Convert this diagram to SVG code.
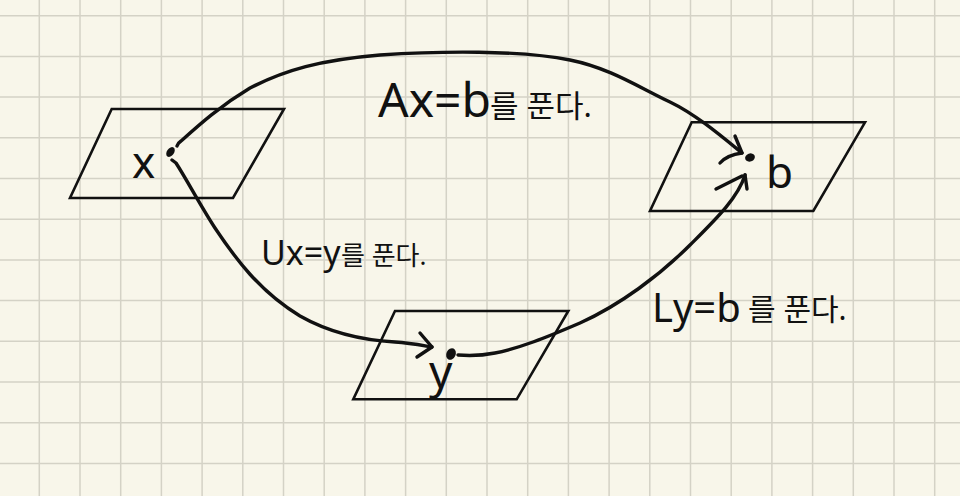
<svg xmlns="http://www.w3.org/2000/svg" width="960" height="496" viewBox="0 0 960 496">
<style>
.grid{fill:none;stroke:#d4d2c6;stroke-width:1.5}
.plane{fill:none;stroke:#111;stroke-width:2.6;stroke-linejoin:miter}
.edge{fill:none;stroke:#111;stroke-width:3.4;stroke-linecap:round;stroke-linejoin:round}
.dot{fill:#111}
.lbl{font-family:"Noto Sans","Noto Sans CJK KR",sans-serif;fill:#111}
</style>
<rect x="0" y="0" width="960" height="496" fill="#f8f6ea"/>
<path class="grid" d="M39.3,0V496M80,0V496M120.7,0V496M161.4,0V496M202.1,0V496M242.8,0V496M283.5,0V496M324.2,0V496M364.9,0V496M405.6,0V496M446.3,0V496M487,0V496M527.7,0V496M568.4,0V496M609.1,0V496M649.8,0V496M690.5,0V496M731.2,0V496M771.9,0V496M812.6,0V496M853.3,0V496M894,0V496M934.7,0V496M0,15.7H960M0,56.4H960M0,97.1H960M0,137.8H960M0,178.5H960M0,219.2H960M0,259.9H960M0,300.6H960M0,341.3H960M0,382H960M0,422.7H960M0,463.4H960"/>
<g id="node-x">
<polygon class="plane" points="111.7,109 284,109 233,198 70,198"/>
<ellipse class="dot" cx="170.5" cy="152" rx="3.6" ry="5.4" transform="rotate(35 170.5 152)"/>
<text class="lbl" x="132" y="178" font-size="44">x</text>
</g>
<g id="node-b">
<polygon class="plane" points="691.7,122.3 865,122.3 813.3,211 650,211"/>
<ellipse class="dot" cx="750" cy="157.5" rx="5" ry="4" transform="rotate(-20 750 157.5)"/>
<text class="lbl" x="766" y="188" font-size="44">b</text>
</g>
<g id="node-y">
<polygon class="plane" points="395,311 568.3,311 516.7,399.3 353.3,399.3"/>
<ellipse class="dot" cx="451" cy="354" rx="4.6" ry="6" transform="rotate(25 451 354)"/>
<text class="lbl" x="429" y="388" font-size="46">y</text>
</g>
<g id="connectors">
<path class="edge" d="M177,146 Q178,143 181,141 C200,124 220,106 250,88 C285,70 320,60 380,55 C440,51 520,50 570,60 C610,68 640,88 670,102 C695,114 720,135 742,153"/>
<path class="edge" d="M735,136 L742,153 M720,163 Q727,155 742,153"/>
<path class="edge" d="M172,160 L176,163 C187,180 200,205 215,228 C235,258 260,292 300,316 C330,333 360,340 395,342 C410,343 420,345 432,347"/>
<path class="edge" d="M420,333 L432,347 L417,357"/>
<path class="edge" d="M458,355 C470,356 480,356 495,353 C520,348 545,338 580,323 C620,305 660,275 690,245 C715,220 738,198 745,175"/>
<path class="edge" d="M716,189 L742,176 M745,175 L747,189"/>
<text class="lbl" x="378" y="117"><tspan font-size="48">Ax=b</tspan><tspan x="490" font-size="31">를 푼다.</tspan></text>
<text class="lbl" x="261" y="265"><tspan font-size="34">Ux=y</tspan><tspan x="341" font-size="26">를 푼다.</tspan></text>
<text class="lbl" x="652" y="322"><tspan font-size="40">Ly=b</tspan><tspan x="748" y="320" font-size="30">를 푼다.</tspan></text>
</g>
</svg>
